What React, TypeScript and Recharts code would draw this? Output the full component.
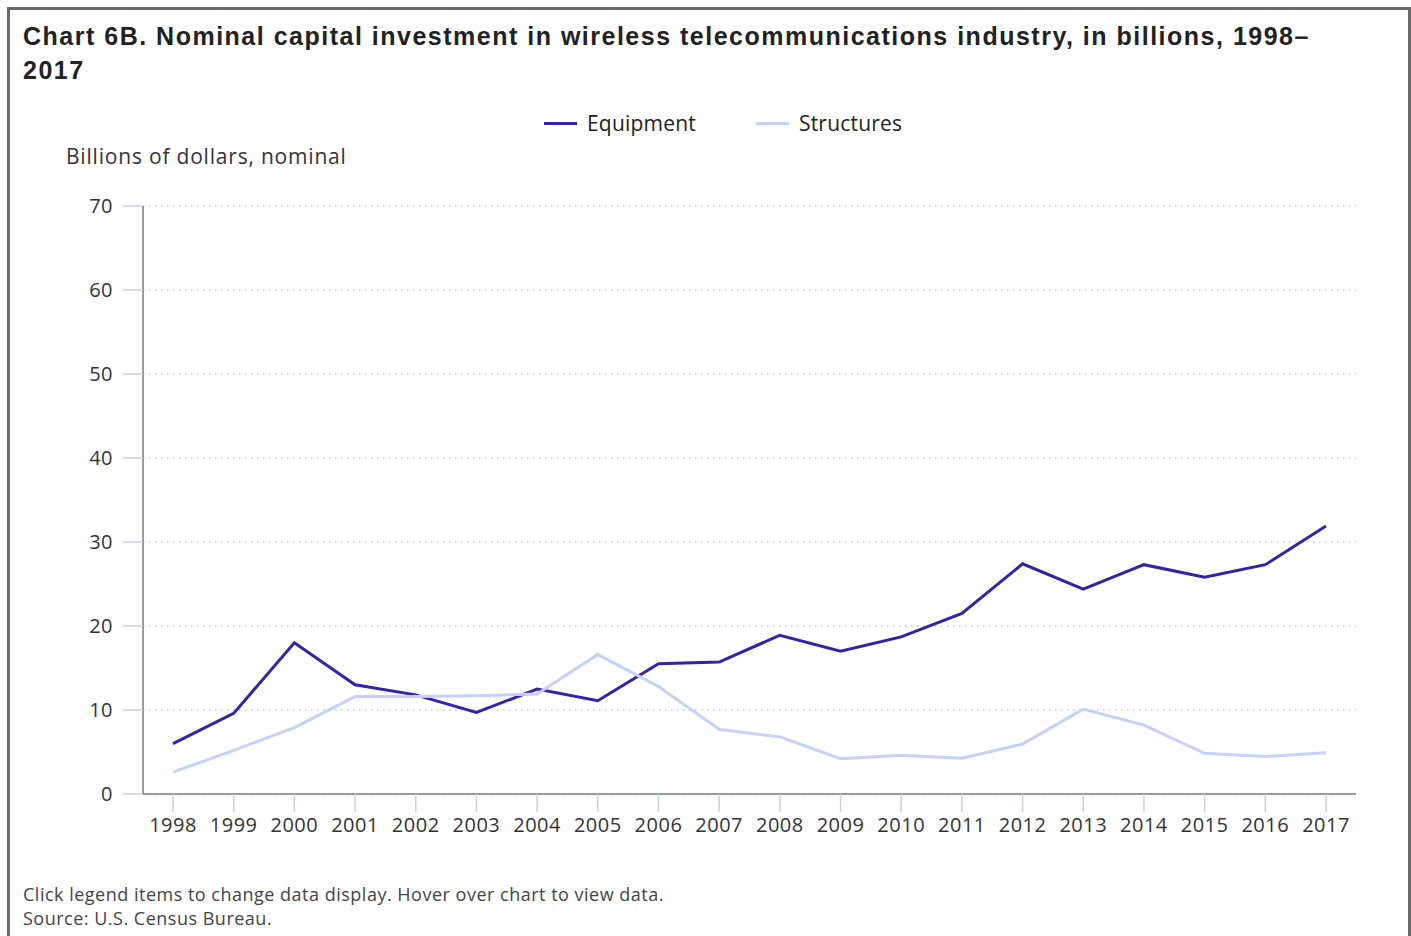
import React from "react"
import { LineChart, Line, XAxis, YAxis, CartesianGrid } from "recharts"

const years = [
  "1998", "1999", "2000", "2001", "2002", "2003", "2004", "2005", "2006", "2007",
  "2008", "2009", "2010", "2011", "2012", "2013", "2014", "2015", "2016", "2017",
]
const equipment = [
  6.0, 9.6, 18.0, 13.0, 11.8, 9.7, 12.5, 11.1, 15.5, 15.7,
  18.9, 17.0, 18.7, 21.5, 27.4, 24.4, 27.3, 25.8, 27.3, 31.9,
]
const structures = [
  2.6, 5.2, 7.9, 11.6, 11.6, 11.7, 11.9, 16.6, 12.8, 7.7,
  6.8, 4.2, 4.6, 4.25, 5.95, 10.1, 8.2, 4.85, 4.45, 4.9,
]
const yTicks = [0, 10, 20, 30, 40, 50, 60, 70]

const EQUIP_COLOR = "#3422ad"
const STRUCT_COLOR = "#c3d2fd"
const FONT = "'Open Sans', 'Noto Sans', sans-serif"

const data = years.map((y, i) => ({ year: y, equipment: equipment[i], structures: structures[i] }))

const tickStyle = { fontFamily: FONT, fontSize: 20, fill: "#333", letterSpacing: 0.5 }

export default function App() {
  return (
    <div
      style={{
        position: "absolute",
        left: 7,
        top: 7,
        width: 1398,
        height: 926,
        border: "3px solid #6a6a6a",
        borderBottom: "none",
        background: "#fff",
        overflow: "hidden",
      }}
    >
      <div
        style={{
          position: "absolute",
          left: 13,
          top: 9,
          fontFamily: "'Liberation Sans', Arial, sans-serif",
          fontWeight: "bold",
          fontSize: 25,
          letterSpacing: 1.5,
          lineHeight: "34px",
          color: "#222",
          whiteSpace: "nowrap",
        }}
      >
        Chart 6B. Nominal capital investment in wireless telecommunications industry, in billions, 1998–
        <br />
        2017
      </div>

      {/* legend */}
      <div
        style={{
          position: "absolute",
          left: 534,
          top: 99,
          display: "flex",
          alignItems: "center",
          fontFamily: FONT,
          fontSize: 21,
          letterSpacing: 0.2,
          color: "#222",
          fontWeight: 500,
          whiteSpace: "nowrap",
        }}
      >
        <span style={{ display: "inline-block", width: 33, height: 3, background: EQUIP_COLOR, marginRight: 10 }} />
        <span>Equipment</span>
        <span style={{ display: "inline-block", width: 33, height: 3, background: STRUCT_COLOR, marginLeft: 60, marginRight: 10 }} />
        <span>Structures</span>
      </div>

      <div
        style={{
          position: "absolute",
          left: 56,
          top: 132,
          fontFamily: FONT,
          fontSize: 21,
          letterSpacing: 0.8,
          color: "#333",
          whiteSpace: "nowrap",
        }}
      >
        Billions of dollars, nominal
      </div>

      <div style={{ position: "absolute", left: 0, top: 0 }}>
        <LineChart width={1395} height={900} data={data} margin={{ top: 196, right: 49, left: 73, bottom: 76 }}>
          <CartesianGrid vertical={false} stroke="#aaa" strokeDasharray="1.5 4.5" />
          <XAxis
            dataKey="year"
            padding={{ left: 30, right: 30 }}
            height={40}
            tickSize={18}
            tickMargin={6}
            axisLine={{ stroke: "#7a7a7a", strokeWidth: 1.5 }}
            tickLine={{ stroke: "#c6d1e6", strokeWidth: 1.5 }}
            tick={tickStyle}
            interval={0}
          />
          <YAxis
            domain={[0, 70]}
            ticks={yTicks}
            width={60}
            tickSize={20}
            tickMargin={10}
            axisLine={{ stroke: "#7a7a7a", strokeWidth: 1.5 }}
            tickLine={{ stroke: "#c6d1e6", strokeWidth: 1.5 }}
            tick={tickStyle}
          />
          <Line
            dataKey="equipment"
            name="Equipment"
            type="linear"
            stroke={EQUIP_COLOR}
            strokeWidth={3}
            dot={false}
            isAnimationActive={false}
          />
          <Line
            dataKey="structures"
            name="Structures"
            type="linear"
            stroke={STRUCT_COLOR}
            strokeWidth={3}
            dot={false}
            isAnimationActive={false}
          />
        </LineChart>
      </div>

      <div
        style={{
          position: "absolute",
          left: 13,
          top: 872,
          fontFamily: FONT,
          fontSize: 18,
          letterSpacing: 0.5,
          lineHeight: "24px",
          color: "#444",
          whiteSpace: "nowrap",
        }}
      >
        Click legend items to change data display. Hover over chart to view data.
        <br />
        Source: U.S. Census Bureau.
      </div>
    </div>
  )
}
